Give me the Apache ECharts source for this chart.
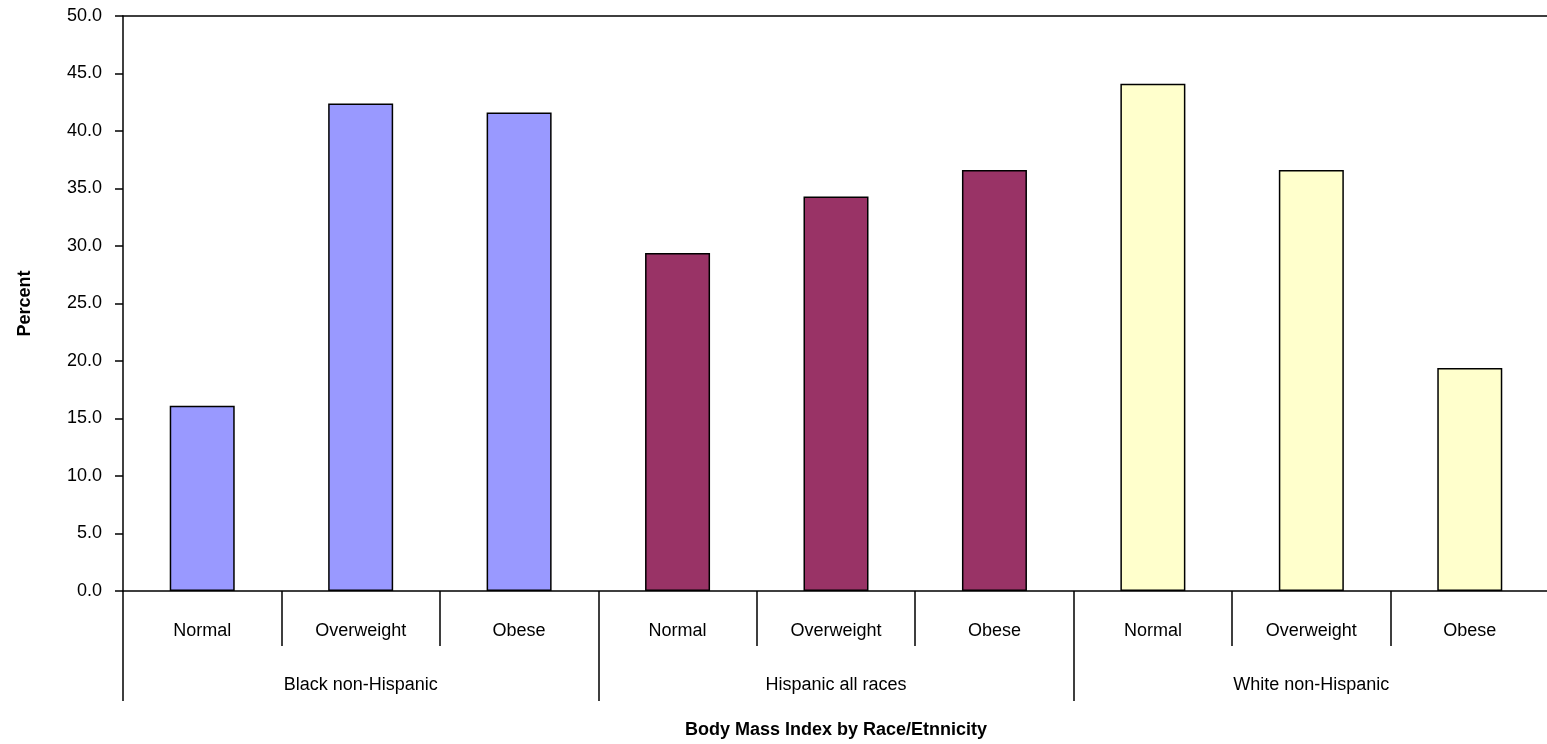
<!DOCTYPE html>
<html>
<head>
<meta charset="utf-8">
<script src="https://cdn.jsdelivr.net/npm/echarts@6/dist/echarts.min.js"></script>
<style>
html,body{margin:0;padding:0;background:#fff;overflow:hidden;}
#chart{width:1549px;height:744px;}
</style>
</head>
<body>
<div id="chart"></div>
<script>
const subcats = ['Normal', 'Overweight', 'Obese'];
const groups = ['Black non-Hispanic', 'Hispanic all races', 'White non-Hispanic'];
const blackValues = [16.1, 42.4, 41.6];
const hispanicValues = [29.4, 34.3, 36.6];
const whiteValues = [44.1, 36.6, 19.4];
const groupColors = ['#9999FF', '#993366', '#FFFFCC'];
const yTicks = [0, 5, 10, 15, 20, 25, 30, 35, 40, 45, 50];

const groupValues = [blackValues, hispanicValues, whiteValues];
const categories = [];
const barData = [];
groups.forEach((g, gi) => {
  subcats.forEach((s, si) => {
    categories.push(s);
    barData.push({ value: groupValues[gi][si], itemStyle: { color: groupColors[gi] } });
  });
});

const font = 'Liberation Sans, Arial, sans-serif';
const chart = echarts.init(document.getElementById('chart'), null, { renderer: 'canvas' });
chart.setOption({
  animation: false,
  backgroundColor: '#ffffff',
  grid: { left: 123, right: 0, top: 16, height: 576, containLabel: false },
  xAxis: [
    {
      type: 'category', data: categories, position: 'bottom',
      axisLine: { show: true, lineStyle: { color: '#000', width: 1.5 } },
      axisTick: { show: true, interval: 0, length: 55, lineStyle: { color: '#000', width: 1.5 } },
      axisLabel: { interval: 0, margin: 31, color: '#000', fontSize: 18, fontFamily: font },
      splitLine: { show: false }
    },
    {
      type: 'category', data: groups, position: 'bottom',
      axisLine: { show: false },
      axisTick: { show: true, interval: 0, length: 110, lineStyle: { color: '#000', width: 1.5 } },
      axisLabel: { interval: 0, margin: 85, color: '#000', fontSize: 18, fontFamily: font },
      name: 'Body Mass Index by Race/Etnnicity', nameLocation: 'middle', nameGap: 130,
      nameTextStyle: { color: '#000', fontSize: 18, fontWeight: 'bold', fontFamily: font },
      splitLine: { show: false }
    },
    {
      type: 'category', data: categories, position: 'top',
      axisLine: { show: true, lineStyle: { color: '#000', width: 1.5 } },
      axisTick: { show: false }, axisLabel: { show: false }, splitLine: { show: false }
    }
  ],
  yAxis: {
    type: 'value', min: yTicks[0], max: yTicks[yTicks.length - 1], interval: 5,
    axisLine: { show: true, lineStyle: { color: '#000', width: 1.5 } },
    axisTick: { show: true, length: 8, lineStyle: { color: '#000', width: 1.5 } },
    axisLabel: { color: '#000', fontSize: 18, fontFamily: font, margin: 21, formatter: v => v.toFixed(1) },
    splitLine: { show: false },
    name: 'Percent', nameLocation: 'middle', nameGap: 89, nameRotate: 90,
    nameTextStyle: { color: '#000', fontSize: 18, fontWeight: 'bold', fontFamily: font }
  },
  series: [{
    type: 'bar', xAxisIndex: 0, data: barData, barWidth: 65,
    itemStyle: { borderColor: '#000', borderWidth: 1.5 }
  }]
});
</script>
</body>
</html>
